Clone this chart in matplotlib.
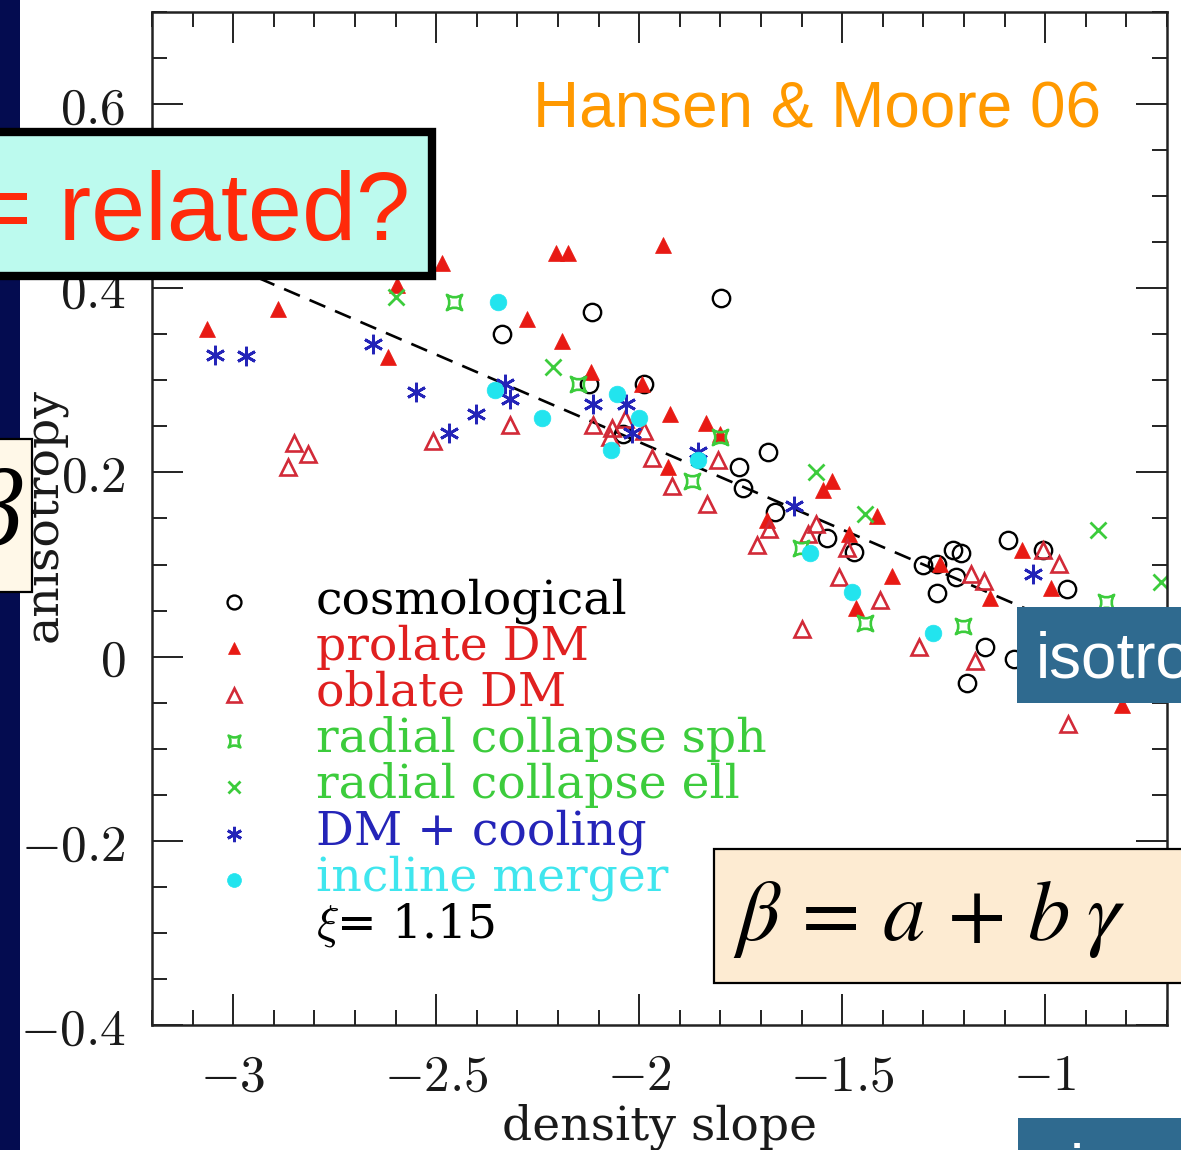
import matplotlib
matplotlib.use("Agg")
import matplotlib.pyplot as plt
from matplotlib.path import Path
from matplotlib.patches import Rectangle
from matplotlib.ticker import MultipleLocator

plt.rcParams["mathtext.fontset"] = "cm"

# ---------------------------------------------------------------- data
cosmo_x = [-1.798, -2.116, -2.337, -2.123, -1.988, -2.039, -1.682, -1.754,
           -1.744, -1.665, -1.537, -1.470, -1.300, -1.266, -1.227, -1.207,
           -1.219, -1.266, -1.091, -1.005, -0.946, -1.148, -1.076, -1.192]
cosmo_y = [0.389, 0.374, 0.350, 0.296, 0.296, 0.242, 0.222, 0.206,
           0.183, 0.157, 0.129, 0.114, 0.099, 0.101, 0.116, 0.112,
           0.087, 0.069, 0.127, 0.116, 0.073, 0.010, -0.003, -0.029]

prolate_x = [-3.064, -2.889, -2.618, -2.596, -2.485, -2.276, -2.190, -2.204,
             -2.175, -1.941, -2.118, -1.993, -1.924, -1.835, -1.800, -1.929,
             -1.525, -1.547, -1.414, -1.685, -1.483, -1.377, -1.466, -1.135,
             -1.057, -0.985, -0.810, -1.259]
prolate_y = [0.356, 0.378, 0.325, 0.404, 0.427, 0.367, 0.343, 0.438,
             0.438, 0.447, 0.309, 0.296, 0.263, 0.254, 0.242, 0.206,
             0.191, 0.181, 0.153, 0.148, 0.133, 0.088, 0.053, 0.064,
             0.116, 0.074, -0.053, 0.101]

oblate_x = [-2.850, -2.815, -2.865, -2.507, -2.318, -2.113, -2.034, -2.067,
            -2.071, -1.988, -1.968, -1.805, -1.919, -1.833, -1.680, -1.709,
            -1.584, -1.564, -1.488, -1.507, -1.406, -1.599, -1.310, -1.172,
            -1.182, -1.150, -0.966, -0.943, -1.005]
oblate_y = [0.232, 0.220, 0.206, 0.234, 0.252, 0.251, 0.258, 0.248,
            0.239, 0.245, 0.216, 0.213, 0.185, 0.166, 0.139, 0.121,
            0.133, 0.144, 0.118, 0.086, 0.062, 0.030, 0.011, -0.005,
            0.090, 0.082, 0.101, -0.073, 0.116]

sph_x = [-2.456, -2.150, -1.800, -1.869, -1.601, -1.443, -1.202, -0.850]
sph_y = [0.385, 0.296, 0.238, 0.191, 0.118, 0.037, 0.033, 0.059]

ell_x = [-2.599, -2.212, -1.564, -1.443, -0.869, -0.714]
ell_y = [0.391, 0.314, 0.200, 0.155, 0.138, 0.081]

cool_x = [-3.044, -2.968, -2.655, -2.549, -2.468, -2.401, -2.330, -2.318,
          -2.113, -2.032, -2.017, -1.855, -1.618, -1.030]
cool_y = [0.327, 0.326, 0.340, 0.287, 0.243, 0.264, 0.296, 0.280,
          0.274, 0.274, 0.243, 0.222, 0.164, 0.090]

merger_x = [-2.347, -2.355, -2.239, -2.054, -2.000, -2.069, -1.855, -1.579,
            -1.475, -1.276]
merger_y = [0.385, 0.290, 0.259, 0.285, 0.259, 0.224, 0.213, 0.112,
            0.070, 0.026]

# linear fit beta = a + b * gamma
fit_a = -0.147
fit_b = -0.190
fit_gamma = [-3.0, -0.75]

x_ticks = [-3.0, -2.5, -2.0, -1.5, -1.0]
x_tick_labels = [r"$-3$", r"$-2.5$", r"$-2$", r"$-1.5$", r"$-1$"]
y_ticks = [-0.4, -0.2, 0.0, 0.2, 0.4, 0.6]
y_tick_labels = [r"$-0.4$", r"$-0.2$", r"$0$", r"$0.2$", r"$0.4$", r"$0.6$"]

legend_labels = ["cosmological", "prolate DM", "oblate DM",
                 "radial collapse sph", "radial collapse ell",
                 "DM + cooling", "incline merger"]
xi_label = r"$\xi$= 1.15"

# ---------------------------------------------------------------- styles
RED = "#e81a14"
RED_OPEN = "#d22a38"
GREEN = "#3ccc3c"
BLUE = "#2424b8"
CYAN = "#22e4ee"
SERIF = "DejaVu Serif"

# concave-sided square for the spherical radial-collapse runs
sph_path = Path(
    [(-1, -1), (0, -0.35), (1, -1), (0.35, 0), (1, 1), (0, 0.35), (-1, 1),
     (-0.35, 0), (-1, -1), (-1, -1)],
    [Path.MOVETO, Path.CURVE3, Path.CURVE3, Path.CURVE3, Path.CURVE3,
     Path.CURVE3, Path.CURVE3, Path.CURVE3, Path.CURVE3, Path.CLOSEPOLY])

series = [
    (cosmo_x, cosmo_y, dict(marker="o", mfc="none", mec="black", ms=12.5, mew=1.7)),
    (prolate_x, prolate_y, dict(marker="^", mfc=RED, mec=RED, ms=11.5, mew=0.5)),
    (oblate_x, oblate_y, dict(marker="^", mfc="none", mec=RED_OPEN, ms=12, mew=1.9)),
    (sph_x, sph_y, dict(marker=sph_path, mfc="none", mec=GREEN, ms=11, mew=1.9)),
    (ell_x, ell_y, dict(marker="x", mfc="none", mec=GREEN, ms=11, mew=2.0)),
    (cool_x, cool_y, dict(marker=(6, 2, 0), mfc="none", mec=BLUE, ms=14, mew=2.0)),
    (merger_x, merger_y, dict(marker="o", mfc=CYAN, mec=CYAN, ms=12, mew=0.5)),
]
legend_text_colors = ["black", "#e02020", "#e02020", GREEN, GREEN, BLUE, "#3fe6ee"]
legend_ms = [10, 9, 9.5, 8.5, 8.5, 11, 10]

# ---------------------------------------------------------------- figure
W, H = 1181, 1150
fig = plt.figure(figsize=(W / 100, H / 100), dpi=100)
fig.patch.set_facecolor("white")
ax = fig.add_axes([152 / W, 1 - 1025 / H, 1015 / W, 1013 / H])

ax.plot(fit_gamma, [fit_a + fit_b * g for g in fit_gamma], color="black",
        lw=1.9, dashes=(6.5, 4), zorder=1)

for xs, ys, st in series:
    ax.plot(xs, ys, ls="none", zorder=2, **st)

ax.set_xlim(-3.2, -0.7)
ax.set_ylim(-0.4, 0.7)
ax.set_xticks(x_ticks, labels=x_tick_labels)
ax.set_yticks(y_ticks, labels=y_tick_labels)
ax.xaxis.set_minor_locator(MultipleLocator(0.1))
ax.yaxis.set_minor_locator(MultipleLocator(0.05))
ax.tick_params(which="both", direction="in", top=True, right=True,
               width=1.4, colors="#222222", labelcolor="#1a1a1a")
ax.tick_params(which="major", length=22, labelsize=37, pad=19)
ax.tick_params(which="minor", length=11)
for sp in ax.spines.values():
    sp.set_linewidth(1.8)
    sp.set_color("#222222")

ax.set_xlabel("density slope", family=SERIF, fontsize=34, color="#1a1a1a")
ax.set_ylabel("anisotropy", family=SERIF, fontsize=34, color="#1a1a1a")
ax.xaxis.set_label_coords(0.5, -0.1007)
ax.xaxis.label.set_va("center")
ax.yaxis.label.set_rotation_mode("default")
ax.yaxis.set_label_coords(-0.1054, 0.5035)
ax.yaxis.label.set_va("center")

# key drawn inside the axes
mark_x, text_x = 0.0808, 0.1616
row0, step = 0.4175, 0.0457
for i, ((xs, ys, st), lab) in enumerate(zip(series, legend_labels)):
    yy = row0 - i * step
    st_leg = dict(st)
    st_leg["ms"] = legend_ms[i]
    ax.plot([mark_x], [yy], ls="none", transform=ax.transAxes, clip_on=False, **st_leg)
    ax.text(text_x, yy - 0.011, lab, transform=ax.transAxes, family=SERIF,
            fontsize=34, color=legend_text_colors[i], va="baseline", ha="left")
ax.text(text_x, row0 - 7 * step - 0.011, xi_label, transform=ax.transAxes,
        family=SERIF, fontsize=34, color="black", va="baseline", ha="left",
        math_fontfamily="cm")

# ---------------------------------------------------------------- slide overlays
def fx(px):
    return px / W


def fy(py):
    return 1 - py / H


def box(x0, y0, x1, y1, face, edge="none", lw=0.0, z=5):
    r = Rectangle((fx(x0), fy(y1)), (x1 - x0) / W, (y1 - y0) / H,
                  transform=fig.transFigure, facecolor=face, edgecolor=edge,
                  linewidth=lw, zorder=z, clip_on=False)
    fig.add_artist(r)
    return r


box(0, 0, 20, H, "#040c50", z=-1)

box(-20, 132, 432, 276, "#bcfaee", edge="black", lw=6, z=5)
fig.text(fx(410), fy(240), "= related?", ha="right", va="baseline",
         fontsize=70, color="#ff2a0a", family="Liberation Sans", zorder=6)

fig.text(fx(533), fy(127), "Hansen & Moore 06", ha="left", va="baseline",
         fontsize=46, color="#ff9900", family="Liberation Sans", zorder=6)

box(-20, 439, 32, 592, "#fff8e8", edge="black", lw=1.6, z=5)
fig.text(fx(22), fy(545), "β", ha="right", va="baseline", fontsize=80,
         family="Liberation Serif", style="italic", color="black", zorder=6)

box(1017, 607, 1200, 703, "#2f6a8f", z=5)
fig.text(fx(1036), fy(678), "isotropic", ha="left", va="baseline",
         fontsize=46, color="white", family="Liberation Sans", zorder=6)

box(714, 849, 1200, 983, "#fdebd2", edge="black", lw=1.6, z=5)
fig.text(fx(733), fy(940), r"$\beta\,=\,a\,+\,b\;\gamma$", ha="left",
         va="baseline", fontsize=61, math_fontfamily="stix", color="black",
         zorder=6)

box(1018, 1118, 1200, 1170, "#2f6a8f", z=5)
fig.text(fx(1070), fy(1190), "i", ha="left", va="baseline",
         fontsize=46, color="white", family="Liberation Sans", zorder=6)

fig.savefig("out.png", dpi=100)
